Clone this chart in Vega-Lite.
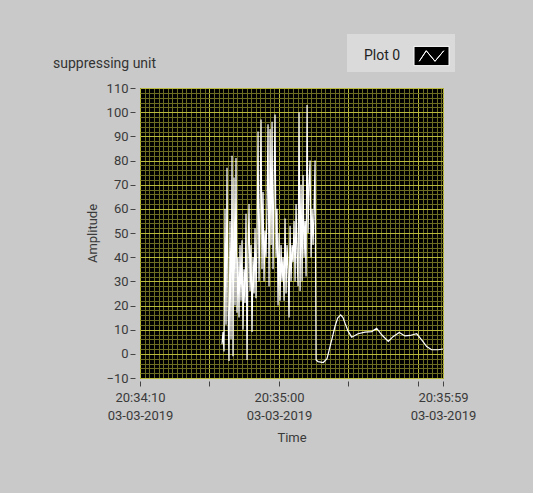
{
  "$schema": "https://vega.github.io/schema/vega-lite/v6.json",
  "width": 303,
  "height": 290,
  "autosize": "none",
  "padding": {"left": 140, "top": 88, "right": 90, "bottom": 115},
  "background": "#c9c9c9",
  "title": {"text": "suppressing unit", "anchor": "start", "frame": "group", "dx": -87, "dy": 44, "offset": 0, "baseline": "middle", "fontSize": 14, "font": "Roboto", "fontWeight": "normal", "color": "#333333"},
  "config": {
    "view": {"fill": "black", "stroke": null},
    "axis": {"labelFont": "Roboto", "titleFont": "Roboto", "labelFontSize": 13, "titleFontSize": 13, "labelColor": "#3a3a3a", "titleColor": "#3a3a3a", "titleFontWeight": "normal"}
  },
  "data": {"values": [
    {"time": "2019-03-03T20:34:39.50Z", "amplitude": 4},
    {"time": "2019-03-03T20:34:39.86Z", "amplitude": 9},
    {"time": "2019-03-03T20:34:40.22Z", "amplitude": 1},
    {"time": "2019-03-03T20:34:40.58Z", "amplitude": 60},
    {"time": "2019-03-03T20:34:40.94Z", "amplitude": 12},
    {"time": "2019-03-03T20:34:41.30Z", "amplitude": 77},
    {"time": "2019-03-03T20:34:41.66Z", "amplitude": 20},
    {"time": "2019-03-03T20:34:42.02Z", "amplitude": -3},
    {"time": "2019-03-03T20:34:42.38Z", "amplitude": 55},
    {"time": "2019-03-03T20:34:42.74Z", "amplitude": 6},
    {"time": "2019-03-03T20:34:43.10Z", "amplitude": 82},
    {"time": "2019-03-03T20:34:43.46Z", "amplitude": -1},
    {"time": "2019-03-03T20:34:43.82Z", "amplitude": 73},
    {"time": "2019-03-03T20:34:44.18Z", "amplitude": 20},
    {"time": "2019-03-03T20:34:44.54Z", "amplitude": 81},
    {"time": "2019-03-03T20:34:44.90Z", "amplitude": 17},
    {"time": "2019-03-03T20:34:45.26Z", "amplitude": 40},
    {"time": "2019-03-03T20:34:45.62Z", "amplitude": 15},
    {"time": "2019-03-03T20:34:45.98Z", "amplitude": 45},
    {"time": "2019-03-03T20:34:46.34Z", "amplitude": 22},
    {"time": "2019-03-03T20:34:46.70Z", "amplitude": 47},
    {"time": "2019-03-03T20:34:47.06Z", "amplitude": 10},
    {"time": "2019-03-03T20:34:47.42Z", "amplitude": 35},
    {"time": "2019-03-03T20:34:47.78Z", "amplitude": 21},
    {"time": "2019-03-03T20:34:48.14Z", "amplitude": 58},
    {"time": "2019-03-03T20:34:48.50Z", "amplitude": -2.5},
    {"time": "2019-03-03T20:34:48.86Z", "amplitude": 40},
    {"time": "2019-03-03T20:34:49.22Z", "amplitude": 62},
    {"time": "2019-03-03T20:34:49.58Z", "amplitude": 26},
    {"time": "2019-03-03T20:34:49.94Z", "amplitude": 45},
    {"time": "2019-03-03T20:34:50.30Z", "amplitude": 9},
    {"time": "2019-03-03T20:34:50.66Z", "amplitude": 40},
    {"time": "2019-03-03T20:34:51.02Z", "amplitude": 25},
    {"time": "2019-03-03T20:34:51.38Z", "amplitude": 52},
    {"time": "2019-03-03T20:34:51.74Z", "amplitude": 23},
    {"time": "2019-03-03T20:34:52.10Z", "amplitude": 48},
    {"time": "2019-03-03T20:34:52.46Z", "amplitude": 92},
    {"time": "2019-03-03T20:34:52.82Z", "amplitude": 30},
    {"time": "2019-03-03T20:34:53.18Z", "amplitude": 60},
    {"time": "2019-03-03T20:34:53.54Z", "amplitude": 97},
    {"time": "2019-03-03T20:34:53.90Z", "amplitude": 35},
    {"time": "2019-03-03T20:34:54.26Z", "amplitude": 67},
    {"time": "2019-03-03T20:34:54.62Z", "amplitude": 30},
    {"time": "2019-03-03T20:34:54.98Z", "amplitude": 51},
    {"time": "2019-03-03T20:34:55.34Z", "amplitude": 40},
    {"time": "2019-03-03T20:34:55.70Z", "amplitude": 62},
    {"time": "2019-03-03T20:34:56.06Z", "amplitude": 95},
    {"time": "2019-03-03T20:34:56.42Z", "amplitude": 28},
    {"time": "2019-03-03T20:34:56.78Z", "amplitude": 93},
    {"time": "2019-03-03T20:34:57.14Z", "amplitude": 45},
    {"time": "2019-03-03T20:34:57.50Z", "amplitude": 96},
    {"time": "2019-03-03T20:34:57.86Z", "amplitude": 35},
    {"time": "2019-03-03T20:34:58.22Z", "amplitude": 70},
    {"time": "2019-03-03T20:34:58.58Z", "amplitude": 99},
    {"time": "2019-03-03T20:34:58.94Z", "amplitude": 40},
    {"time": "2019-03-03T20:34:59.30Z", "amplitude": 60},
    {"time": "2019-03-03T20:34:59.66Z", "amplitude": 20},
    {"time": "2019-03-03T20:35:00.02Z", "amplitude": 50},
    {"time": "2019-03-03T20:35:00.38Z", "amplitude": 22},
    {"time": "2019-03-03T20:35:00.74Z", "amplitude": 45},
    {"time": "2019-03-03T20:35:01.10Z", "amplitude": 30},
    {"time": "2019-03-03T20:35:01.46Z", "amplitude": 40},
    {"time": "2019-03-03T20:35:01.82Z", "amplitude": 22},
    {"time": "2019-03-03T20:35:02.18Z", "amplitude": 56},
    {"time": "2019-03-03T20:35:02.54Z", "amplitude": 25},
    {"time": "2019-03-03T20:35:02.90Z", "amplitude": 45},
    {"time": "2019-03-03T20:35:03.26Z", "amplitude": 35},
    {"time": "2019-03-03T20:35:03.62Z", "amplitude": 15},
    {"time": "2019-03-03T20:35:03.98Z", "amplitude": 53},
    {"time": "2019-03-03T20:35:04.34Z", "amplitude": 30},
    {"time": "2019-03-03T20:35:04.70Z", "amplitude": 45},
    {"time": "2019-03-03T20:35:05.06Z", "amplitude": 38},
    {"time": "2019-03-03T20:35:05.42Z", "amplitude": 55},
    {"time": "2019-03-03T20:35:05.78Z", "amplitude": 30},
    {"time": "2019-03-03T20:35:06.14Z", "amplitude": 62},
    {"time": "2019-03-03T20:35:06.50Z", "amplitude": 40},
    {"time": "2019-03-03T20:35:06.86Z", "amplitude": 28},
    {"time": "2019-03-03T20:35:07.22Z", "amplitude": 100},
    {"time": "2019-03-03T20:35:07.58Z", "amplitude": 26},
    {"time": "2019-03-03T20:35:07.94Z", "amplitude": 70},
    {"time": "2019-03-03T20:35:08.30Z", "amplitude": 30},
    {"time": "2019-03-03T20:35:08.66Z", "amplitude": 74},
    {"time": "2019-03-03T20:35:09.02Z", "amplitude": 40},
    {"time": "2019-03-03T20:35:09.38Z", "amplitude": 55},
    {"time": "2019-03-03T20:35:09.74Z", "amplitude": 32},
    {"time": "2019-03-03T20:35:10.10Z", "amplitude": 103},
    {"time": "2019-03-03T20:35:10.46Z", "amplitude": 50},
    {"time": "2019-03-03T20:35:10.82Z", "amplitude": 70},
    {"time": "2019-03-03T20:35:11.18Z", "amplitude": 80},
    {"time": "2019-03-03T20:35:11.54Z", "amplitude": 40},
    {"time": "2019-03-03T20:35:11.90Z", "amplitude": 60},
    {"time": "2019-03-03T20:35:12.26Z", "amplitude": 45},
    {"time": "2019-03-03T20:35:12.62Z", "amplitude": 60},
    {"time": "2019-03-03T20:35:12.98Z", "amplitude": 80},
    {"time": "2019-03-03T20:35:13.34Z", "amplitude": -2.5},
    {"time": "2019-03-03T20:35:14.03Z", "amplitude": -3.2},
    {"time": "2019-03-03T20:35:15.94Z", "amplitude": -3.6},
    {"time": "2019-03-03T20:35:17.27Z", "amplitude": -2},
    {"time": "2019-03-03T20:35:18.35Z", "amplitude": 3},
    {"time": "2019-03-03T20:35:19.24Z", "amplitude": 7},
    {"time": "2019-03-03T20:35:20.14Z", "amplitude": 11.3},
    {"time": "2019-03-03T20:35:21.11Z", "amplitude": 14.8},
    {"time": "2019-03-03T20:35:22.19Z", "amplitude": 16.1},
    {"time": "2019-03-03T20:35:23.02Z", "amplitude": 15},
    {"time": "2019-03-03T20:35:23.74Z", "amplitude": 12.7},
    {"time": "2019-03-03T20:35:24.82Z", "amplitude": 9.5},
    {"time": "2019-03-03T20:35:26.15Z", "amplitude": 6.9},
    {"time": "2019-03-03T20:35:28.42Z", "amplitude": 8.3},
    {"time": "2019-03-03T20:35:30.94Z", "amplitude": 9},
    {"time": "2019-03-03T20:35:33.35Z", "amplitude": 9.2},
    {"time": "2019-03-03T20:35:35.14Z", "amplitude": 10.6},
    {"time": "2019-03-03T20:35:36.94Z", "amplitude": 7.9},
    {"time": "2019-03-03T20:35:39.32Z", "amplitude": 5.1},
    {"time": "2019-03-03T20:35:41.12Z", "amplitude": 7.2},
    {"time": "2019-03-03T20:35:43.27Z", "amplitude": 8.8},
    {"time": "2019-03-03T20:35:45.32Z", "amplitude": 7.4},
    {"time": "2019-03-03T20:35:47.12Z", "amplitude": 7.6},
    {"time": "2019-03-03T20:35:49.53Z", "amplitude": 8.3},
    {"time": "2019-03-03T20:35:51.33Z", "amplitude": 5.8},
    {"time": "2019-03-03T20:35:53.13Z", "amplitude": 3},
    {"time": "2019-03-03T20:35:54.93Z", "amplitude": 1.7},
    {"time": "2019-03-03T20:35:57.30Z", "amplitude": 1.7},
    {"time": "2019-03-03T20:35:59.00Z", "amplitude": 2}
  ]},
  "layer": [
    {
      "mark": {"type": "line", "opacity": 0},
      "encoding": {
        "x": {"field": "time", "type": "temporal",
          "scale": {"type": "utc", "domain": [1551645250000, 1551645359000]},
          "axis": {"orient": "top", "grid": true, "gridColor": "#6c6c22", "gridWidth": 1, "labels": false, "ticks": false, "domain": false, "title": null,
            "values": [1551645250000,1551645251667,1551645253333,1551645255000,1551645256667,1551645258333,1551645260000,1551645261667,1551645263333,1551645265000,1551645266667,1551645268333,1551645270000,1551645271667,1551645273333,1551645275000,1551645276667,1551645278333,1551645280000,1551645281667,1551645283333,1551645285000,1551645286667,1551645288333,1551645290000,1551645291667,1551645293333,1551645295000,1551645296667,1551645298333,1551645300000,1551645301667,1551645303333,1551645305000,1551645306667,1551645308333,1551645310000,1551645311667,1551645313333,1551645315000,1551645316667,1551645318333,1551645320000,1551645321667,1551645323333,1551645325000,1551645326667,1551645328333,1551645330000,1551645331667,1551645333333,1551645335000,1551645336667,1551645338333,1551645340000,1551645341667,1551645343333,1551645345000,1551645346667,1551645348333,1551645350000,1551645351667,1551645353333,1551645355000,1551645356667,1551645358333]}},
        "y": {"field": "amplitude", "type": "quantitative",
          "scale": {"domain": [-10, 110], "nice": false, "zero": false},
          "axis": {"orient": "right", "tickCount": 60, "grid": true, "gridColor": "#6c6c22", "gridWidth": 1, "labels": false, "ticks": false, "domain": false, "title": null}}
      }
    },
    {
      "mark": {"type": "line", "strokeWidth": 1.2},
      "encoding": {
        "x": {"field": "time", "type": "temporal",
          "scale": {"type": "utc", "domain": [1551645250000, 1551645359000]},
          "axis": {"orient": "bottom", "values": [1551645250000, 1551645275000, 1551645300000, 1551645325000, 1551645350000, 1551645359000],
            "grid": true, "gridColor": "#b8b83c", "gridWidth": 1,
            "labelExpr": "indexof(['10','00','59'], utcFormat(datum.value, '%S')) >= 0 ? [utcFormat(datum.value, '%H:%M:%S'), utcFormat(datum.value, '%d-%m-%Y')] : ''",
            "labelLineHeight": 18, "labelOverlap": false, "labelFlush": false, "labelBaseline": "top", "tickSize": 5, "tickColor": "#444444", "domain": false, "offset": 3, "labelPadding": 5,
            "title": "Time", "titlePadding": 9}},
        "y": {"field": "amplitude", "type": "quantitative",
          "scale": {"domain": [-10, 110], "nice": false, "zero": false},
          "axis": {"orient": "left", "values": [-10, 0, 10, 20, 30, 40, 50, 60, 70, 80, 90, 100, 110],
            "grid": true, "gridColor": "#b8b83c", "gridWidth": 1, "tickSize": 5, "tickColor": "#444444", "domain": false, "offset": 5, "labelPadding": 2,
            "title": "Amplitude", "titlePadding": 6}},
        "color": {"datum": "Plot 0", "scale": {"range": ["white"]},
          "legend": {"title": null, "orient": "none", "legendX": 207, "legendY": -54, "fillColor": "#dadada", "padding": 4,
            "labelFont": "Roboto", "labelFontSize": 14, "labelColor": "#222222",
            "symbolType": "M-1,-0.55H1V0.55H-1Z M-0.7,0.3L-0.3,-0.3L0.2,0.3L0.7,-0.3L0.2,0.3L-0.3,-0.3Z",
            "symbolSize": 1225, "symbolFillColor": "black", "symbolStrokeColor": "white", "symbolStrokeWidth": 1,
            "symbolOffset": 62.5, "labelOffset": -85.5}}
      }
    }
  ],
  "resolve": {"axis": {"x": "independent", "y": "independent"}}
}
